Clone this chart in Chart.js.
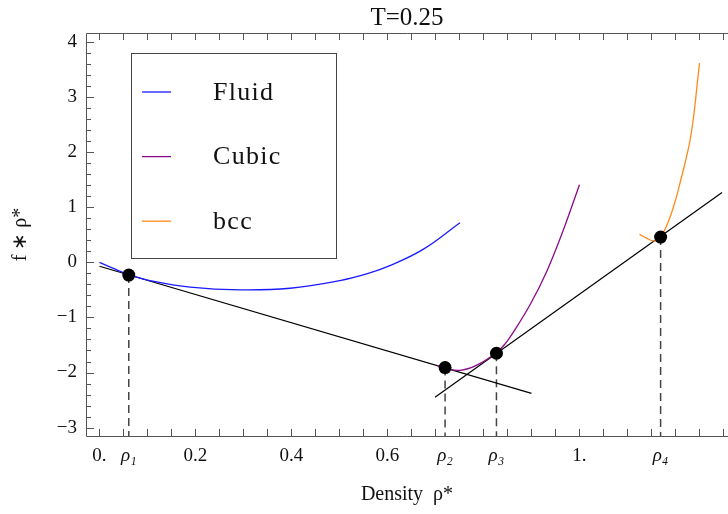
<!DOCTYPE html>
<html>
<head>
<meta charset="utf-8">
<script src="https://cdn.jsdelivr.net/npm/chart.js@4"></script>
<style>
html, body { margin: 0; padding: 0; background: #fff; }
</style>
</head>
<body>
<canvas id="chart" width="728" height="514"></canvas>
<script>
// free energy curves (density, f*rho)
var fluidRho = [0.0, 0.029, 0.064, 0.105, 0.189, 0.293, 0.397, 0.501, 0.560, 0.605, 0.675, 0.751];
var fluidF   = [0.0, -0.11, -0.23, -0.33, -0.45, -0.50, -0.47, -0.33, -0.20, -0.06, 0.24, 0.72];

var cubicRho = [0.703, 0.720, 0.751, 0.785, 0.827, 0.845, 0.862, 0.897, 0.932, 0.966, 1.0];
var cubicF   = [-1.87, -1.92, -1.96, -1.87, -1.64, -1.48, -1.27, -0.77, -0.16, 0.58, 1.41];

var bccRho = [1.125, 1.140, 1.154, 1.165, 1.177, 1.189, 1.200, 1.210, 1.220, 1.230, 1.238, 1.245, 1.250];
var bccF   = [0.51, 0.44, 0.39, 0.42, 0.58, 0.83, 1.13, 1.46, 1.81, 2.20, 2.66, 3.22, 3.62];

// common tangent constructions
var tangent1Rho = [0.0, 0.90];
var tangent1F   = [-0.07, -2.38];
var tangent2Rho = [0.699, 1.297];
var tangent2F   = [-2.45, 1.27];

// coexistence points rho1..rho4
var coexRho = [0.061, 0.720, 0.827, 1.169];
var coexF   = [-0.23, -1.91, -1.65, 0.46];

var xTickValues = [0, coexRho[0], 0.2, 0.4, 0.6, coexRho[1], coexRho[2], 1.0, coexRho[3]];
var xTickLabels = ['0.', 'ρ₁', '0.2', '0.4', '0.6', 'ρ₂', 'ρ₃', '1.', 'ρ₄'];
var yTickValues = [-3, -2, -1, 0, 1, 2, 3, 4];
var yTickLabels = ['−3', '−2', '−1', '0', '1', '2', '3', '4'];

var X_MIN = -0.0281, X_MAX = 1.3094, Y_MIN = -3.153, Y_MAX = 4.166;
var SERIF = '"Liberation Serif", "Times New Roman", serif';

function pts(xs, ys) {
    return xs.map(function (x, i) { return { x: x, y: ys[i] }; });
}

var datasets = [
    { label: 'points', data: pts(coexRho, coexF), showLine: false,
      pointRadius: 6.5, pointBackgroundColor: '#000', pointBorderWidth: 0 },
    { label: 'Fluid', inLegend: true, data: pts(fluidRho, fluidF), borderColor: '#1a1aff',
      borderWidth: 1.3, pointRadius: 0, tension: 0.4 },
    { label: 'Cubic', inLegend: true, data: pts(cubicRho, cubicF), borderColor: '#8a0a8a',
      borderWidth: 1.3, pointRadius: 0, tension: 0.4 },
    { label: 'bcc', inLegend: true, data: pts(bccRho, bccF), borderColor: '#ff8a1a',
      borderWidth: 1.3, pointRadius: 0, tension: 0.4 },
    { label: 'tangent1', data: pts(tangent1Rho, tangent1F), borderColor: '#000',
      borderWidth: 1.2, pointRadius: 0 },
    { label: 'tangent2', data: pts(tangent2Rho, tangent2F), borderColor: '#000',
      borderWidth: 1.2, pointRadius: 0 }
];
coexRho.forEach(function (r, i) {
    datasets.push({ label: 'drop' + i, data: [{ x: r, y: coexF[i] }, { x: r, y: Y_MIN }],
        borderColor: '#444', borderWidth: 1.5, borderDash: [8, 5], pointRadius: 0 });
});

// frame with inward ticks, Mathematica style
var frameTicks = {
    id: 'frameTicks',
    afterDatasetsDraw: function (chart) {
        var ctx = chart.ctx, a = chart.chartArea;
        var xs = chart.scales.x, ys = chart.scales.y;
        ctx.save();
        ctx.strokeStyle = '#555';
        ctx.lineWidth = 1;
        ctx.beginPath();
        ctx.moveTo(a.right, a.top + 0.5);
        ctx.lineTo(a.left + 0.5, a.top + 0.5);
        ctx.lineTo(a.left + 0.5, a.bottom + 0.5);
        ctx.lineTo(a.right, a.bottom + 0.5);
        for (var i = 0; i <= 26; i++) {
            var px = Math.round(xs.getPixelForValue(i * 0.05)) + 0.5;
            ctx.moveTo(px, a.bottom);
            ctx.lineTo(px, a.bottom - 7);
            ctx.moveTo(px, a.top);
            ctx.lineTo(px, a.top + 7);
        }
        for (var j = -15; j <= 20; j++) {
            var py = Math.round(ys.getPixelForValue(j * 0.2)) + 0.5;
            if (py < a.top || py > a.bottom) continue;
            ctx.moveTo(a.left, py);
            ctx.lineTo(a.left + (j % 5 === 0 ? 8 : 5), py);
        }
        ctx.stroke();
        ctx.restore();
    }
};

var legendBox = {
    id: 'legendBox',
    afterDatasetsDraw: function (chart) {
        var ctx = chart.ctx, a = chart.chartArea;
        var x0 = Math.round(a.left + 45), y0 = Math.round(a.top + 20), w = 205, h = 205;
        ctx.save();
        ctx.fillStyle = '#fff';
        ctx.fillRect(x0, y0, w, h);
        ctx.strokeStyle = '#444';
        ctx.lineWidth = 1;
        ctx.strokeRect(x0 + 0.5, y0 + 0.5, w, h);
        chart.data.datasets.filter(function (d) { return d.inLegend; }).forEach(function (d, i) {
            var y = y0 + 39 + i * 64.6;
            ctx.strokeStyle = d.borderColor;
            ctx.lineWidth = 1.3;
            ctx.beginPath();
            ctx.moveTo(x0 + 11, y);
            ctx.lineTo(x0 + 40, y);
            ctx.stroke();
            ctx.fillStyle = '#111';
            ctx.font = '26px ' + SERIF;
            ctx.letterSpacing = '1.3px';
            ctx.textBaseline = 'middle';
            ctx.fillText(d.label, x0 + 82, y + 1);
        });
        ctx.restore();
    }
};

new Chart(document.getElementById('chart').getContext('2d'), {
    type: 'scatter',
    data: { datasets: datasets },
    options: {
        responsive: false,
        animation: false,
        showLine: true,
        layout: { padding: 0, autoPadding: false },
        plugins: {
            legend: { display: false },
            tooltip: { enabled: false },
            title: {
                display: true, text: 'T=0.25', fullSize: false, color: '#111',
                font: { family: SERIF, size: 25, weight: 'normal' },
                padding: { top: 3, bottom: 0 }
            }
        },
        scales: {
            x: {
                type: 'linear', min: X_MIN, max: X_MAX,
                grid: { display: false, drawTicks: false },
                border: { display: false },
                afterBuildTicks: function (s) {
                    s.ticks = xTickValues.map(function (v) { return { value: v }; });
                },
                afterFit: function (s) {
                    s.height = 78;
                    s.paddingLeft = 0;
                    s.paddingRight = 0;
                },
                ticks: {
                    autoSkip: false, maxRotation: 0, padding: 9, color: '#111',
                    callback: function (v, i) { return xTickLabels[i]; },
                    font: function (c) {
                        var lab = xTickLabels[c.index] || '';
                        return { family: SERIF, size: 19, style: lab.charAt(0) === 'ρ' ? 'italic' : 'normal' };
                    }
                },
                title: {
                    display: true, text: 'Density  ρ*', color: '#111',
                    font: { family: SERIF, size: 20 }, padding: { top: 0, bottom: 7 }
                }
            },
            y: {
                type: 'linear', min: Y_MIN, max: Y_MAX,
                grid: { display: false, drawTicks: false },
                border: { display: false },
                afterBuildTicks: function (s) {
                    s.ticks = yTickValues.map(function (v) { return { value: v }; });
                },
                afterFit: function (s) {
                    s.width = 86;
                    s.paddingTop = 0;
                    s.paddingBottom = 0;
                },
                ticks: {
                    padding: 9, color: '#111',
                    callback: function (v, i) { return yTickLabels[i]; },
                    font: { family: SERIF, size: 19 }
                },
                title: {
                    display: true, text: 'f ∗ ρ*', color: '#111',
                    font: { family: SERIF, size: 20 }, padding: { top: 9, bottom: 0 }
                }
            }
        }
    },
    plugins: [frameTicks, legendBox]
});
</script>
</body>
</html>
